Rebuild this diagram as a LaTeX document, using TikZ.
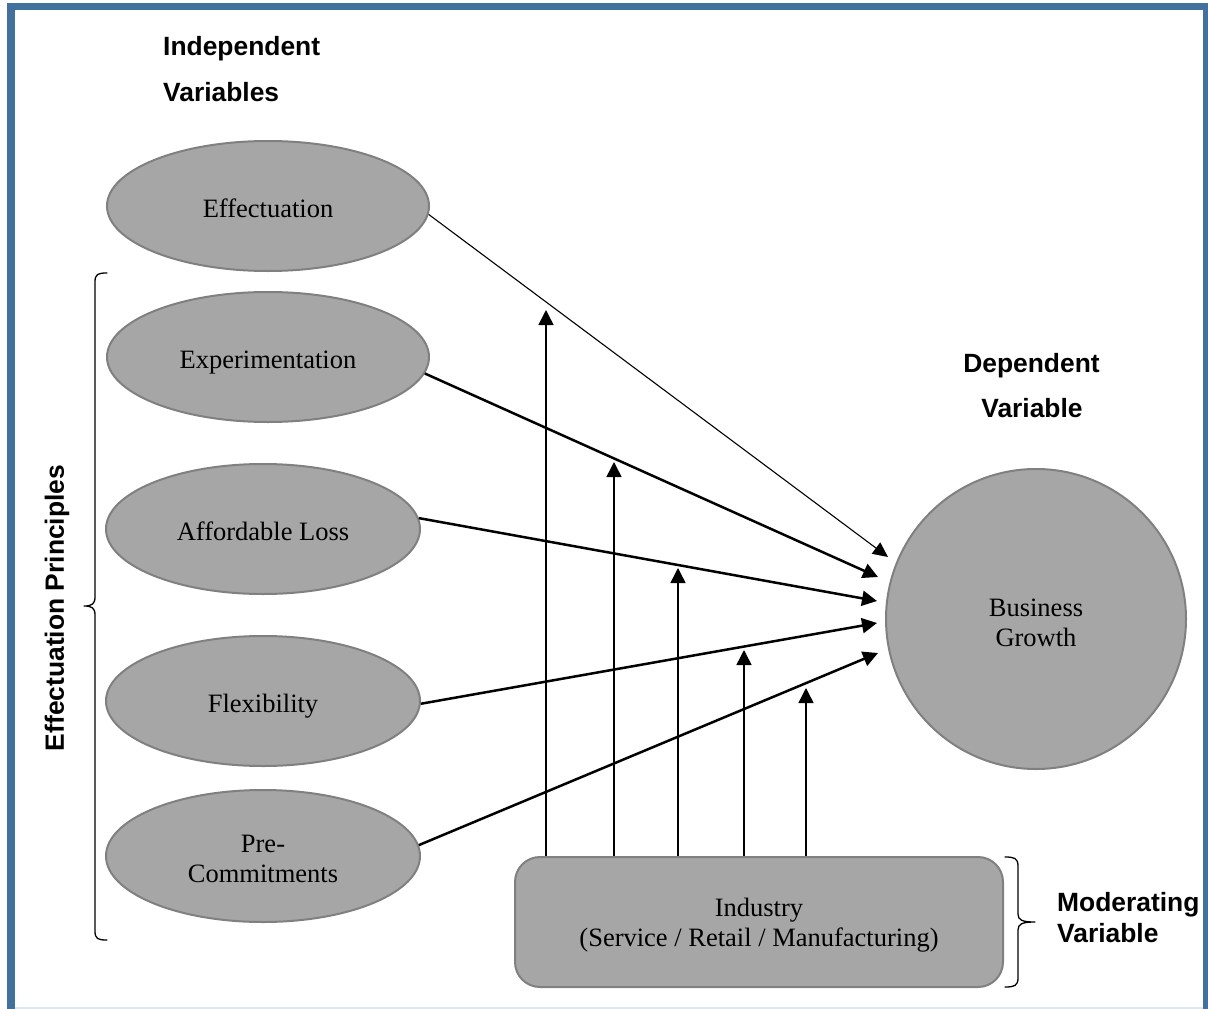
\documentclass[tikz,border=0pt]{standalone}
\usepackage{fontspec}
\setmainfont{Liberation Serif}
\setsansfont{Liberation Sans}
\usetikzlibrary{shapes.geometric,arrows.meta}
\definecolor{framecol}{RGB}{65,113,156}
\definecolor{framepale}{RGB}{222,230,240}
\definecolor{shapefill}{RGB}{166,166,166}
\definecolor{shapeline}{RGB}{128,128,128}
\begin{document}
\begin{tikzpicture}[x=1pt,y=-1pt,
  shapetext/.style={inner sep=0pt, font=\fontsize{26.5}{30}\selectfont, align=center},
  var/.style={ellipse, draw=shapeline, fill=shapefill, line width=2pt,
    inner sep=0pt, minimum width=314pt, minimum height=130pt,
    shapetext, text height=22pt, text depth=0pt},
  heading/.style={inner sep=0pt,
    font=\fontsize{26.4}{31}\selectfont\sffamily\bfseries},
  link/.style={line width=2.5pt, -{Triangle[length=15pt,width=15pt]}},
  thinlink/.style={line width=1.1pt, -{Triangle[length=15pt,width=14pt]}},
  modlink/.style={line width=1.5pt, -{Triangle[length=15pt,width=15pt]}},
  brace/.style={line width=1.3pt, line cap=round, line join=round}
]
% page and frame
\useasboundingbox (0,0) rectangle (1208,1009);
\fill[framecol] (7,3) rectangle (1210,1012);
\fill[white] (15,10) rectangle (1203,1007);
\fill[framepale] (15,1007) rectangle (1203,1009);

% headings
\node[heading, anchor=base west] (ivA) at (163,55) {Independent};
\node[heading, anchor=base west] (ivB) at (163,101) {Variables};
\node[heading, anchor=base] (dvA) at (1031.5,372) {Dependent};
\node[heading, anchor=base] (dvB) at (1032,417) {Variable};
\node[heading, anchor=base west] (mvA) at (1057,911) {Moderating};
\node[heading, anchor=base west] (mvB) at (1057,942) {Variable};
\node[heading, rotate=90] (ep) at (57,608) {Effectuation Principles};

% independent variables
\node[var, minimum width=322pt] (eff) at (268,206) {Effectuation};
\node[var, minimum width=322pt] (exp) at (268,357) {Experimentation};
\node[var] (aff) at (263,529) {Affordable Loss};
\node[var] (flx) at (263,701) {Flexibility};
\node[var, minimum height=132pt,
  label={[shapetext, yshift=-3pt]center:Pre-\\Commitments}] (pre) at (263,856) {};

% dependent variable
\node[circle, draw=shapeline, fill=shapefill, line width=2pt, inner sep=0pt,
  minimum size=300pt,
  label={[shapetext, yshift=-4pt]center:Business\\Growth}] (bg) at (1036,619) {};

% moderating variable
\node[draw=shapeline, fill=shapefill, line width=2pt, rounded corners=25pt,
  minimum width=488pt, minimum height=130pt, inner sep=0pt,
  label={[shapetext, yshift=-3pt]center:Industry\\(Service / Retail / Manufacturing)}]
  (ind) at (759,922) {};

% arrow tips in front of the circle
\coordinate (t1) at (888,557);
\coordinate (t2) at (878,577);
\coordinate (t3) at (877,601);
\coordinate (t4) at (877,623);
\coordinate (t5) at (878,653);

\draw[thinlink] (eff.-3) -- (t1);
\draw[link] (exp.-6) -- (t2);
\draw[link] (aff.4) -- (t3);
\draw[link] (flx.-1) -- (t4);
\draw[link] (pre.4) -- (t5);

% moderating effects
\coordinate (m1) at (546,310);
\coordinate (m2) at (614,462);
\coordinate (m3) at (678,568);
\coordinate (m4) at (744,650);
\coordinate (m5) at (806,688);
\foreach \m in {m1,m2,m3,m4,m5}
  \draw[modlink] (ind.north -| \m) -- (\m);

% braces
\draw[brace] (107,273) .. controls (98,273) and (95,274) .. (95,282)
  -- (95,597) .. controls (95,604) and (92,606) .. (84,606)
  .. controls (92,606) and (95,608) .. (95,615)
  -- (95,931) .. controls (95,939) and (98,940) .. (107,940);
\draw[brace] (1005,857) .. controls (1014,857) and (1018,858) .. (1018,866)
  -- (1018,914) .. controls (1018,920) and (1022,922) .. (1035,922)
  .. controls (1022,922) and (1018,924) .. (1018,930)
  -- (1018,978) .. controls (1018,986) and (1014,987) .. (1005,987);
\end{tikzpicture}
\end{document}
